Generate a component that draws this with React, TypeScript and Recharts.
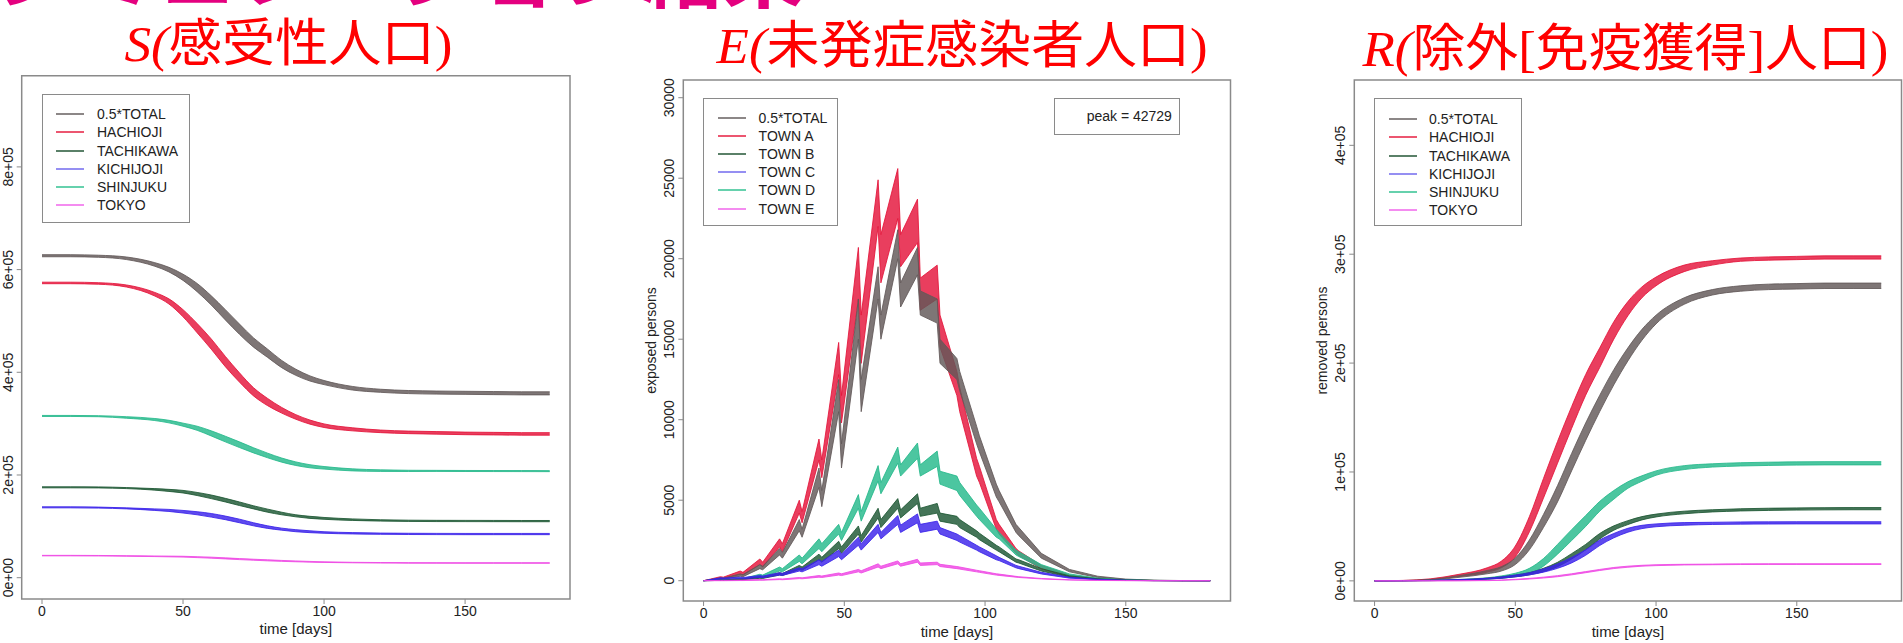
import React from "react";
import { ComposedChart, Area, XAxis, YAxis, ReferenceArea } from "recharts";

const SANS = "'Liberation Sans', Arial, Helvetica, sans-serif";
const SERIF = "'Liberation Serif', 'Times New Roman', serif";
const CJK = "'Noto Sans CJK JP', 'Noto Sans CJK SC', sans-serif";

// legend names + colours (order: total, A, B, C, D, E)
const cityNames = ["0.5*TOTAL", "HACHIOJI", "TACHIKAWA", "KICHIJOJI", "SHINJUKU", "TOKYO"];
const townNames = ["0.5*TOTAL", "TOWN A", "TOWN B", "TOWN C", "TOWN D", "TOWN E"];
const bandColors = ["#615858", "#e4143a", "#1c5733", "#3a22ea", "#24b98b", "#ef48e4"];
const keyColors = ["#8c8787", "#ec5670", "#5a8068", "#958ff2", "#66d1ad", "#f48cf0"];
const drawOrder = [1, 0, 4, 2, 3, 5];

const xTicks = [0, 50, 100, 150];
const xDomain = [-7.2, 187.2];

const sYTicks = [0, 200000, 400000, 600000, 800000];
const sYLabels = ["0e+00", "2e+05", "4e+05", "6e+05", "8e+05"];
const eYTicks = [0, 5000, 10000, 15000, 20000, 25000, 30000];
const eYLabels = ["0", "5000", "10000", "15000", "20000", "25000", "30000"];
const rYTicks = [0, 100000, 200000, 300000, 400000];
const rYLabels = ["0e+00", "1e+05", "2e+05", "3e+05", "4e+05"];

// ---- S and R panels: days, band centre and half-width (thousands of persons) ----
const srDays = [0, 10, 20, 30, 40, 45, 50, 55, 60, 65, 70, 75, 80, 85, 90, 95, 100, 110, 120, 130, 140, 150, 160, 170, 180];

const sTotal = [627, 627, 626, 622, 610, 600, 585, 565, 540, 512, 484, 458, 437, 416, 400, 388, 380, 369, 364, 361.5, 360.5, 360, 359.5, 359, 359];
const sTotalW = [2, 2, 2, 2.5, 3.5, 4.5, 6, 8, 9, 10, 10, 9, 8, 7, 6, 5, 4, 3.5, 3, 3, 3, 3, 3, 3, 3];
const sA = [574, 574, 573, 568, 552, 538, 515, 486, 455, 421, 390, 362, 342, 326, 313, 303, 296, 289, 285, 283, 282, 281, 280.5, 280, 280];
const sAW = [1.5, 1.5, 1.5, 2, 3.5, 5, 7, 9, 10, 10, 9, 8, 7, 5.5, 4.5, 4, 3.5, 3, 2.5, 2.5, 2.5, 2.5, 2.5, 2.5, 2.5];
const sB = [176, 176, 175.8, 174.5, 172, 170, 167.5, 163, 157.5, 151, 144, 137, 130.5, 125, 120.5, 117.5, 115.5, 113, 111.5, 110.8, 110.5, 110.4, 110.3, 110.2, 110.2];
const sBW = [1, 1, 1, 1, 1.5, 2, 2.5, 3, 3.5, 3.5, 3.5, 3, 3, 2.5, 2, 2, 1.8, 1.5, 1.3, 1.2, 1.2, 1.2, 1.2, 1.2, 1.2];
const sC = [137, 137, 136.5, 135, 132.5, 131, 128.5, 125.5, 121.5, 116.5, 110.5, 104, 98.5, 94.5, 91.5, 89.5, 88, 86.5, 85.7, 85.3, 85.1, 85, 85, 85, 85];
const sCW = [1, 1, 1, 1, 1.5, 2, 2.5, 3, 3.5, 3.5, 3.5, 3, 2.5, 2, 2, 1.8, 1.5, 1.3, 1.2, 1.2, 1.2, 1.2, 1.2, 1.2, 1.2];
const sD = [315, 315, 314.5, 312, 308, 304, 298, 291, 281, 270, 259, 248, 238, 229, 222, 217, 214, 210, 208.5, 208, 208, 207.8, 207.7, 207.6, 207.5];
const sDW = [1, 1, 1, 1.5, 2, 2.5, 3, 4, 5, 5.5, 5.5, 5, 4.5, 4, 3.5, 3, 2.5, 2, 1.5, 1.2, 1, 1, 1, 1, 1];
const sE = [43, 43, 42.8, 42.3, 41.7, 41.3, 40.9, 40, 39, 37.6, 36.2, 35, 33.8, 32.7, 31.8, 31, 30.3, 29.5, 29, 28.8, 28.7, 28.6, 28.6, 28.6, 28.6];
const sEW = [0.5, 0.5, 0.5, 0.5, 0.6, 0.7, 0.8, 0.9, 1, 1, 1, 1, 1, 0.9, 0.8, 0.7, 0.6, 0.5, 0.5, 0.5, 0.5, 0.5, 0.5, 0.5, 0.5];

const rTotal = [0, 0.2, 1, 4, 8, 11, 18, 33, 55, 80, 109, 137, 163, 187, 208, 226, 240, 257, 265, 268.5, 270, 270.5, 271, 271, 271];
const rTotalW = [0, 0.1, 0.3, 0.8, 1.5, 2, 3, 4.5, 6, 7.5, 8, 8, 7.5, 7, 6, 5, 4, 3, 2.5, 2.5, 2.5, 2.5, 2.5, 2.5, 2.5];
const rA = [0, 0.3, 1.5, 5, 10, 15, 27, 52, 85, 118, 150, 180, 205, 230, 250, 265, 275, 287, 292, 295, 296, 296.5, 297, 297, 297];
const rAW = [0, 0.1, 0.4, 1, 2, 3, 5, 7, 9, 10, 10, 9.5, 9, 8, 6.5, 5, 4, 3, 2, 1.5, 1.5, 1.5, 1.5, 1.5, 1.5];
const rB = [0, 0.1, 0.3, 0.8, 2, 3, 4.5, 6.5, 10, 15, 22.5, 31, 41, 48.5, 53.5, 57.5, 60, 62.8, 64.3, 65.2, 65.7, 66, 66.2, 66.3, 66.3];
const rBW = [0, 0, 0.1, 0.2, 0.4, 0.6, 0.8, 1, 1.5, 2, 2.5, 2.5, 2.5, 2, 1.8, 1.5, 1.3, 1.2, 1, 1, 1, 1, 1, 1, 1];
const rC = [0, 0.1, 0.4, 1, 2, 3, 4.5, 6.5, 9.5, 13.5, 19, 26, 35, 41.5, 46.5, 49.5, 51, 52.3, 52.8, 53.1, 53.2, 53.3, 53.3, 53.3, 53.3];
const rCW = [0, 0, 0.1, 0.2, 0.4, 0.6, 0.8, 1, 1.5, 2, 2.5, 2.5, 2.5, 2, 1.8, 1.5, 1.3, 1.2, 1, 1, 1, 1, 1, 1, 1];
const rD = [0, 0.1, 0.3, 1, 2.2, 3.5, 5.5, 9, 17, 29, 42, 55, 68.5, 79, 88, 94, 99, 104, 106, 107, 107.5, 107.8, 108, 108, 108];
const rDW = [0, 0, 0.1, 0.3, 0.6, 1, 1.5, 2.5, 3.5, 4.5, 5, 5, 4.5, 4, 3, 2.5, 2, 1.8, 1.5, 1.5, 1.5, 1.5, 1.5, 1.5, 1.5];
const rE = [0, 0, 0.05, 0.1, 0.3, 0.6, 1.2, 2, 3, 4.3, 6, 8, 10, 11.8, 13, 13.9, 14.4, 14.9, 15.1, 15.3, 15.4, 15.4, 15.4, 15.4, 15.4];
const rEW = [0, 0, 0, 0, 0.1, 0.1, 0.2, 0.3, 0.4, 0.5, 0.5, 0.5, 0.5, 0.5, 0.5, 0.4, 0.4, 0.3, 0.3, 0.3, 0.3, 0.3, 0.3, 0.3, 0.3];

// ---- E panel: band low / high (persons), weekly saw-tooth ----
const eDays = [0, 6, 7, 13, 14, 20, 21, 27, 28, 34, 35, 41, 42, 48, 49, 55, 56, 62, 63, 69, 70, 76, 77, 83, 84, 90, 91, 97, 98, 104, 105, 111, 112, 120, 130, 140, 150, 160, 170, 180];

const eTotalLo = [0, 100, 90, 280, 250, 750, 680, 1600, 1400, 3100, 2700, 5800, 4600, 10500, 7000, 15000, 10500, 17500, 15000, 20000, 17000, 19000, 16500, 16000, 13500, 12500, 11800, 8500, 8000, 5200, 4900, 3000, 2800, 1400, 550, 200, 60, 15, 3, 0];
const eTotalHi = [0, 180, 160, 420, 380, 1000, 900, 2000, 1750, 3800, 3200, 7000, 5600, 12500, 8500, 17500, 12500, 19500, 16500, 21800, 18500, 20700, 18000, 17500, 15000, 13800, 13000, 9600, 9000, 6000, 5600, 3500, 3300, 1700, 700, 280, 100, 35, 10, 3];
const eALo = [0, 150, 130, 400, 350, 1000, 850, 2100, 1800, 4200, 3600, 7500, 6400, 12800, 9800, 17500, 13500, 22000, 18500, 22500, 19500, 21000, 16800, 17500, 14500, 11500, 10500, 6500, 6100, 3200, 2900, 1700, 1550, 750, 250, 80, 20, 5, 0, 0];
const eAHi = [0, 250, 220, 600, 520, 1350, 1150, 2600, 2300, 5000, 4300, 8800, 7500, 14800, 11500, 20700, 16500, 24900, 21500, 25600, 21500, 23700, 18800, 19600, 16500, 13000, 12000, 7600, 7100, 3800, 3500, 2000, 1850, 950, 350, 130, 50, 15, 5, 2];
const eBLo = [0, 20, 20, 60, 60, 150, 140, 350, 320, 700, 650, 1300, 1150, 2000, 1700, 2900, 2400, 3900, 3300, 4500, 3900, 4800, 4000, 4200, 3700, 3500, 3300, 2700, 2550, 1900, 1800, 1150, 1100, 600, 220, 80, 25, 5, 1, 0];
const eBHi = [0, 60, 50, 110, 100, 250, 220, 500, 450, 950, 850, 1650, 1450, 2450, 2100, 3400, 2800, 4500, 3800, 5100, 4400, 5400, 4500, 4800, 4200, 4000, 3800, 3100, 2950, 2200, 2100, 1350, 1300, 750, 300, 120, 45, 15, 4, 1];
const eCLo = [0, 100, 100, 130, 120, 200, 190, 350, 330, 600, 550, 1000, 900, 1500, 1300, 2200, 1900, 3000, 2600, 3500, 3000, 3600, 3000, 3200, 2900, 2500, 2400, 1900, 1800, 1300, 1250, 800, 750, 420, 160, 60, 15, 4, 1, 0];
const eCHi = [0, 180, 170, 220, 200, 320, 290, 500, 460, 800, 750, 1300, 1200, 1900, 1650, 2700, 2300, 3500, 3000, 4050, 3450, 4150, 3500, 3700, 3300, 2900, 2800, 2200, 2100, 1550, 1450, 950, 900, 520, 220, 90, 30, 10, 3, 1];
const eDLo = [0, 20, 20, 80, 80, 250, 230, 600, 550, 1200, 1050, 2000, 1800, 2900, 2500, 4500, 3700, 6200, 5400, 7300, 6500, 7600, 6500, 7100, 6000, 5600, 5300, 4000, 3800, 2700, 2600, 1600, 1500, 800, 300, 100, 30, 8, 2, 0];
const eDHi = [0, 60, 60, 150, 140, 400, 350, 850, 750, 1600, 1400, 2600, 2300, 3500, 3000, 5350, 4300, 7150, 6100, 8300, 7200, 8550, 7200, 8050, 6800, 6500, 6100, 4700, 4500, 3200, 3000, 1900, 1800, 1000, 420, 160, 60, 20, 6, 2];
const eELo = [0, 0, 0, 10, 10, 30, 30, 70, 60, 130, 120, 220, 200, 350, 320, 550, 480, 850, 750, 1050, 900, 1150, 950, 1000, 880, 750, 720, 550, 520, 350, 330, 220, 200, 110, 40, 15, 4, 1, 0, 0];
const eEHi = [0, 20, 20, 40, 40, 70, 60, 120, 110, 200, 180, 320, 290, 480, 430, 700, 620, 1050, 900, 1230, 1050, 1330, 1100, 1150, 1020, 880, 850, 650, 620, 430, 410, 270, 250, 140, 60, 25, 10, 3, 1, 0];

function midRows(days: number[], bands: number[][][]) {
  return days.map((day, i) => {
    const row: any = { day };
    bands.forEach(([mid, w], k) => {
      row["s" + k] = [(mid[i] - w[i]) * 1000, (mid[i] + w[i]) * 1000];
    });
    return row;
  });
}

function rangeRows(days: number[], bands: number[][][]) {
  return days.map((day, i) => {
    const row: any = { day };
    bands.forEach(([lo, hi], k) => {
      row["s" + k] = [lo[i], hi[i]];
    });
    return row;
  });
}

const sRows = midRows(srDays, [[sTotal, sTotalW], [sA, sAW], [sB, sBW], [sC, sCW], [sD, sDW], [sE, sEW]]);
const rRows = midRows(srDays, [[rTotal, rTotalW], [rA, rAW], [rB, rBW], [rC, rCW], [rD, rDW], [rE, rEW]]);
const eRows = rangeRows(eDays, [[eTotalLo, eTotalHi], [eALo, eAHi], [eBLo, eBHi], [eCLo, eCHi], [eDLo, eDHi], [eELo, eEHi]]);

function RotTick(props: any) {
  const { x, y, payload, ticks, labels } = props;
  const i = ticks.indexOf(payload.value);
  const bx = x - 2;
  return (
    <text x={bx} y={y} transform={`rotate(-90 ${bx} ${y})`} textAnchor="middle" fontSize={14} fill="#222" fontFamily={SANS}>
      {labels[i]}
    </text>
  );
}

function Panel(p: any) {
  return (
    <div style={{ position: "absolute", left: p.left, top: p.top }}>
      <ComposedChart width={p.width} height={p.height} data={p.data} margin={p.margin}>
        {drawOrder.map((k) => (
          <Area
            key={k}
            dataKey={"s" + k}
            type={p.smooth ? "monotone" : "linear"}
            stroke={bandColors[k]}
            strokeWidth={1}
            strokeOpacity={0.85}
            fill={bandColors[k]}
            fillOpacity={0.82}
            dot={false}
            activeDot={false}
            isAnimationActive={false}
          />
        ))}
        <ReferenceArea x1={xDomain[0]} x2={xDomain[1]} y1={p.yDomain[0]} y2={p.yDomain[1]} fill="none" stroke="#8a8a8a" strokeWidth={1.5} />
        <XAxis
          type="number"
          dataKey="day"
          domain={xDomain}
          ticks={xTicks}
          interval={0}
          allowDataOverflow
          height={p.xAxisHeight}
          tickSize={5}
          axisLine={false}
          tickLine={{ stroke: "#8a8a8a" }}
          tick={{ fontSize: 14, fill: "#222", fontFamily: SANS }}
          label={{ value: "time [days]", position: "insideBottom", offset: p.xTitleOffset, fontSize: 15, fill: "#222", fontFamily: SANS }}
        />
        <YAxis
          type="number"
          domain={p.yDomain}
          ticks={p.yTicks}
          interval={0}
          allowDataOverflow
          width={p.yAxisWidth}
          tickSize={5}
          axisLine={false}
          tickLine={{ stroke: "#8a8a8a" }}
          tick={(t: any) => <RotTick {...t} ticks={p.yTicks} labels={p.yLabels} />}
          label={
            p.yTitle
              ? { value: p.yTitle, angle: -90, position: "insideLeft", offset: p.yTitleOffset, fontSize: 14, fill: "#222", fontFamily: SANS, style: { textAnchor: "middle" } }
              : undefined
          }
        />
      </ComposedChart>
    </div>
  );
}

function LegendBox(p: any) {
  return (
    <div
      style={{
        position: "absolute",
        left: p.left,
        top: p.top,
        width: p.width,
        height: p.height,
        border: "1px solid #8a8a8a",
        boxSizing: "border-box",
        background: "#fff",
        fontFamily: SANS,
        fontSize: 14,
        color: "#222",
      }}
    >
      {p.names.map((name: string, i: number) => (
        <div key={name} style={{ position: "absolute", left: 0, top: p.firstRow + i * 18.2 - 9, height: 18, width: "100%" }}>
          <div style={{ position: "absolute", left: p.swatchX, top: 8, width: 28, height: 2, background: keyColors[i] }} />
          <div style={{ position: "absolute", left: p.textX, top: 0, lineHeight: "18px", whiteSpace: "nowrap" }}>{name}</div>
        </div>
      ))}
    </div>
  );
}

export default function App() {
  return (
    <div style={{ position: "absolute", left: 0, top: 0, width: 1903, height: 643, overflow: "hidden", background: "#fff" }}>
      <svg width={1903} height={643} style={{ position: "absolute", left: 0, top: 0 }}>
        <text x={-6} y={1} fill="#e4007f" fontSize={80} fontWeight={700} fontFamily={CJK} textLength={810} lengthAdjust="spacingAndGlyphs">
          シミュレーション結果
        </text>
        <text x={124.5} y={61} fill="#ff0000" fontSize={51} textLength={328} lengthAdjust="spacingAndGlyphs">
          <tspan fontFamily={SERIF} fontStyle="italic">S(</tspan>
          <tspan fontFamily={CJK}>感受性人口</tspan>
          <tspan fontFamily={SERIF}>)</tspan>
        </text>
        <text x={716.6} y={62.5} fill="#ff0000" fontSize={51} textLength={491} lengthAdjust="spacingAndGlyphs">
          <tspan fontFamily={SERIF} fontStyle="italic">E(</tspan>
          <tspan fontFamily={CJK}>未発症感染者人口</tspan>
          <tspan fontFamily={SERIF}>)</tspan>
        </text>
        <text x={1362.5} y={66} fill="#ff0000" fontSize={51} textLength={526} lengthAdjust="spacingAndGlyphs">
          <tspan fontFamily={SERIF} fontStyle="italic">R(</tspan>
          <tspan fontFamily={CJK}>除外</tspan>
          <tspan fontFamily={SERIF}>[</tspan>
          <tspan fontFamily={CJK}>免疫獲得</tspan>
          <tspan fontFamily={SERIF}>]</tspan>
          <tspan fontFamily={CJK}>人口</tspan>
          <tspan fontFamily={SERIF}>)</tspan>
        </text>
      </svg>

      <Panel
        left={0}
        top={70}
        width={580}
        height={570}
        margin={{ top: 5.7, right: 10, bottom: 0, left: 0 }}
        yAxisWidth={21.7}
        xAxisHeight={41}
        xTitleOffset={6.3}
        data={sRows}
        yDomain={[-41500, 977600]}
        yTicks={sYTicks}
        yLabels={sYLabels}
        smooth
      />
      <Panel
        left={630}
        top={70}
        width={1240 - 630}
        height={570}
        margin={{ top: 10, right: 9.5, bottom: 0, left: 0 }}
        yAxisWidth={53.3}
        xAxisHeight={39}
        xTitleOffset={3.5}
        data={eRows}
        yDomain={[-1260, 31100]}
        yTicks={eYTicks}
        yLabels={eYLabels}
        yTitle="exposed persons"
        yTitleOffset={21}
      />
      <Panel
        left={1300}
        top={70}
        width={603}
        height={570}
        margin={{ top: 10, right: 1.5, bottom: 0, left: 0 }}
        yAxisWidth={54.3}
        xAxisHeight={39}
        xTitleOffset={3.5}
        data={rRows}
        yDomain={[-18500, 460000]}
        yTicks={rYTicks}
        yLabels={rYLabels}
        yTitle="removed persons"
        yTitleOffset={22}
        smooth
      />

      <LegendBox left={41.7} top={94.3} width={148.3} height={128.4} names={cityNames} firstRow={19} swatchX={13.3} textX={54.3} />
      <LegendBox left={702.9} top={97.7} width={135.5} height={128} names={townNames} firstRow={19} swatchX={13.8} textX={54.7} />
      <LegendBox left={1374} top={98.3} width={148.3} height={127.7} names={cityNames} firstRow={20} swatchX={14} textX={54} />

      <div
        style={{
          position: "absolute",
          left: 1053.9,
          top: 97.7,
          width: 126,
          height: 37.3,
          border: "1px solid #8a8a8a",
          boxSizing: "border-box",
          background: "#fff",
          fontFamily: SANS,
          fontSize: 14,
          color: "#222",
          lineHeight: "35px",
          textAlign: "right",
          paddingRight: 7,
        }}
      >
        peak = 42729
      </div>
    </div>
  );
}
